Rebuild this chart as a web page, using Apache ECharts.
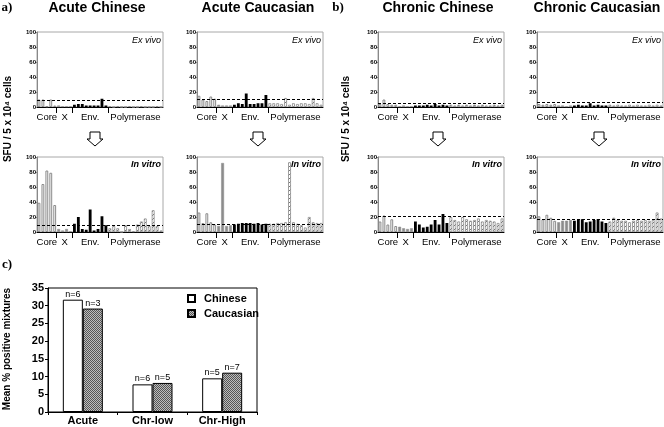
<!DOCTYPE html>
<html><head><meta charset="utf-8">
<script src="https://cdn.jsdelivr.net/npm/echarts@6/dist/echarts.min.js"></script>
<style>html,body{margin:0;padding:0;background:#fff}#c{width:664px;height:427px}</style>
</head><body><div id="c"></div>
<script>
// ---------- DATA ----------
const pools = ['1','2','3','4','5','6','7','8','9','10','11','12','13','14','15','16',
               '17','18','19','20','21','22','23','24','25','26','27','28','29','30','31','32'];
const groupNames = ['Core','X','Env.','Polymerase'];
const groupSizes = [5, 4, 9, 14];

const acuteChineseExVivo    = [10,10,1,10,2, 2,1,1,1, 3,4,4,2,2,2,2,11,2, 1,0,1,0,0,1,0,0,1,0,0,0,1,0];
const acuteCaucasianExVivo  = [15,10,8,14,11, 3,2,2,2, 3,5,4,18,4,4,5,5,16, 5,5,5,4,12,3,5,4,5,5,4,12,5,3];
const chronicChineseExVivo  = [4,10,4,3,3, 1,2,1,1, 2,2,2,3,2,4,2,3,2, 3,2,3,2,3,2,3,2,3,2,2,3,2,3];
const chronicCaucasianExVivo= [4,3,4,3,4, 2,2,1,2, 2,3,2,2,5,2,3,2,2, 3,2,3,2,2,3,2,3,2,2,3,2,3,2];

const acuteChineseInVitro    = [39,64,82,79,36, 4,2,4,1, 11,20,4,3,30,2,4,21,9, 5,8,5,0,9,4,1,10,14,18,8,29,8,2];
const acuteCaucasianInVitro  = [26,12,25,13,10, 8,92,8,9, 10,11,12,12,12,11,12,10,11, 11,11,12,12,13,93,13,11,9,6,20,13,12,12];
const chronicChineseInVitro  = [14,22,10,17,8, 7,5,4,5, 14,10,6,7,10,16,10,24,12, 20,16,14,20,17,15,16,18,14,16,15,14,12,18];
const chronicCaucasianInVitro= [21,17,23,19,15, 13,15,15,16, 15,16,17,13,14,16,17,14,12, 14,19,16,15,15,13,15,16,15,16,15,16,26,18];

const thresholds = { acuteChineseExVivo: 9, acuteCaucasianExVivo: 11, chronicChineseExVivo: 5, chronicCaucasianExVivo: 6,
                     acuteChineseInVitro: 9, acuteCaucasianInVitro: 11, chronicChineseInVitro: 21, chronicCaucasianInVitro: 17 };

const groupCats = ['Acute','Chr-low','Chr-High'];
const chineseMean   = [31.7, 7.8, 9.5];
const caucasianMean = [29.2, 8.2, 11.1];
const chineseN   = [6, 6, 5];
const caucasianN = [3, 5, 7];

// ---------- HELPERS ----------
function pattern(size, draw) {
  const c = document.createElement('canvas'); c.width = c.height = size;
  const g = c.getContext('2d'); draw(g, size);
  return { image: c, repeat: 'repeat' };
}
const hatch = pattern(4, (g, s) => {
  g.fillStyle = '#fff'; g.fillRect(0, 0, s, s);
  g.strokeStyle = '#777'; g.lineWidth = 1;
  g.beginPath(); g.moveTo(-1, s + 1); g.lineTo(s + 1, -1); g.stroke();
});
const checker = pattern(2, (g) => {
  g.fillStyle = '#bdbdbd'; g.fillRect(0, 0, 2, 2);
  g.fillStyle = '#555'; g.fillRect(0, 0, 1, 1); g.fillRect(1, 1, 1, 1);
});

const bounds = [0]; groupSizes.forEach(s => bounds.push(bounds[bounds.length - 1] + s));
const groupCenters = groupSizes.map((s, i) => (bounds[i] + bounds[i + 1]) / 2);
const separators = bounds.slice(1, -1);

function groupOf(i) { let g = 0; while (i >= bounds[g + 1]) g++; return g; }
const groupStyles = [
  { color: '#fff', borderColor: '#8a8a8a', borderWidth: 1 },
  { color: '#8c8c8c', borderColor: '#8c8c8c', borderWidth: 0.5 },
  { color: '#000', borderColor: '#000', borderWidth: 0 },
  { color: hatch, borderColor: '#8a8a8a', borderWidth: 0.8 }
];

const panels = [
  { key: 'acuteChineseExVivo',    data: acuteChineseExVivo,    left: 37,  top: 32,  tag: 'Ex vivo',  tagBold: false },
  { key: 'acuteCaucasianExVivo',  data: acuteCaucasianExVivo,  left: 197, top: 32,  tag: 'Ex vivo',  tagBold: false },
  { key: 'chronicChineseExVivo',  data: chronicChineseExVivo,  left: 378, top: 32,  tag: 'Ex vivo',  tagBold: false },
  { key: 'chronicCaucasianExVivo',data: chronicCaucasianExVivo,left: 537, top: 32,  tag: 'Ex vivo',  tagBold: false },
  { key: 'acuteChineseInVitro',   data: acuteChineseInVitro,   left: 37,  top: 157, tag: 'In vitro', tagBold: true },
  { key: 'acuteCaucasianInVitro', data: acuteCaucasianInVitro, left: 197, top: 157, tag: 'In vitro', tagBold: true },
  { key: 'chronicChineseInVitro', data: chronicChineseInVitro, left: 378, top: 157, tag: 'In vitro', tagBold: true },
  { key: 'chronicCaucasianInVitro',data: chronicCaucasianInVitro,left: 537, top: 157, tag: 'In vitro', tagBold: true }
];
const PW = 126, PH = 75;
const FONT = '"Liberation Sans", Arial, sans-serif';

const grid = [], xAxis = [], yAxis = [], series = [], graphic = [];
panels.forEach((p, k) => {
  grid.push({ left: p.left, top: p.top, width: PW, height: PH, show: true, borderColor: '#a8a8a8', borderWidth: 1, outerBoundsMode: 'none' });
  xAxis.push({ gridIndex: k, type: 'category', data: pools, show: false });
  xAxis.push({
    gridIndex: k, type: 'value', min: 0, max: pools.length, position: 'bottom',
    axisLine: { show: true, onZero: false, lineStyle: { color: '#000', width: 1 } },
    axisTick: { show: true, customValues: separators, length: 6, lineStyle: { color: '#000', width: 1 } },
    axisLabel: { customValues: groupCenters, margin: 5, fontSize: 9.5, fontFamily: FONT, color: '#000',
      formatter: v => { const i = groupCenters.indexOf(v); return i >= 0 ? groupNames[i] : ''; } },
    splitLine: { show: false }
  });
  yAxis.push({
    gridIndex: k, type: 'value', min: 0, max: 100, interval: 20,
    axisLine: { show: true, lineStyle: { color: '#888', width: 1 } },
    axisTick: { show: true, length: 2, lineStyle: { color: '#888' } },
    axisLabel: { fontSize: 6, fontWeight: 'bold', fontFamily: FONT, margin: 1, color: '#000' },
    splitLine: { show: false }
  });
  series.push({
    type: 'bar', xAxisIndex: k * 2, yAxisIndex: k, barCategoryGap: '28%', animation: false, silent: true,
    data: p.data.map((v, i) => ({ value: v, itemStyle: groupStyles[groupOf(i)] })),
    markLine: { silent: true, symbol: 'none', animation: false, label: { show: false },
      lineStyle: { type: [3, 2], color: '#000', width: 1 }, data: [{ yAxis: thresholds[p.key] }] }
  });
  graphic.push({ type: 'text', x: p.left + PW - 2, y: p.top + 8, style: { text: p.tag, align: 'right', verticalAlign: 'middle',
    font: (p.tagBold ? 'italic bold ' : 'italic ') + '9px ' + FONT, fill: '#000' } });
});

// panel c
const ci = panels.length;
grid.push({ left: 48, top: 288, width: 209, height: 124, show: true, borderColor: '#000', borderWidth: 1, outerBoundsMode: 'none' });
xAxis.push({ gridIndex: ci, type: 'category', data: groupCats,
  axisLine: { lineStyle: { color: '#000', width: 1 } },
  axisTick: { show: true, length: 3, lineStyle: { color: '#000' } },
  axisLabel: { fontSize: 11, fontWeight: 'bold', fontFamily: FONT, color: '#000', margin: 3 } });
yAxis.push({ gridIndex: ci, type: 'value', min: 0, max: 35, interval: 5,
  axisLine: { show: true, lineStyle: { color: '#000', width: 1 } },
  axisTick: { show: true, length: 3, lineStyle: { color: '#000' } },
  axisLabel: { fontSize: 11, fontWeight: 'bold', fontFamily: FONT, color: '#000', margin: 4 },
  splitLine: { show: false } });
series.push({ name: 'Chinese', type: 'bar', xAxisIndex: panels.length * 2, yAxisIndex: ci, data: chineseMean,
  barWidth: 20, barGap: '0%', animation: false,
  itemStyle: { color: '#fff', borderColor: '#000', borderWidth: 1 },
  label: { show: true, position: 'top', distance: 1, fontSize: 9, fontFamily: FONT, color: '#000',
    formatter: p => 'n=' + chineseN[p.dataIndex] } });
series.push({ name: 'Caucasian', type: 'bar', xAxisIndex: panels.length * 2, yAxisIndex: ci, data: caucasianMean,
  barWidth: 20, barGap: '0%', animation: false,
  itemStyle: { color: checker, borderColor: '#000', borderWidth: 1 },
  label: { show: true, position: 'top', distance: 1, fontSize: 9, fontFamily: FONT, color: '#000',
    formatter: p => 'n=' + caucasianN[p.dataIndex] } });

// static texts
const txt = (x, y, text, font, extra) => Object.assign({ type: 'text', x, y,
  style: { text, font, fill: '#000', align: 'center', verticalAlign: 'middle' } }, extra || {});
graphic.push(txt(97, 8, 'Acute Chinese', 'bold 14px ' + FONT));
graphic.push(txt(258, 8, 'Acute Caucasian', 'bold 14px ' + FONT));
graphic.push(txt(438, 8, 'Chronic Chinese', 'bold 14px ' + FONT));
graphic.push(txt(597, 8, 'Chronic Caucasian', 'bold 14px ' + FONT));
graphic.push(txt(7, 8, 'a)', 'bold 13px "Liberation Serif", "Times New Roman", serif'));
graphic.push(txt(338, 8, 'b)', 'bold 13px "Liberation Serif", "Times New Roman", serif'));
graphic.push(txt(7, 265, 'c)', 'bold 13px "Liberation Serif", "Times New Roman", serif'));
graphic.push(txt(8, 119, 'SFU / 5 x 10\u2074 cells', 'bold 10px ' + FONT, { rotation: Math.PI / 2 }));
graphic.push(txt(346, 119, 'SFU / 5 x 10\u2074 cells', 'bold 10px ' + FONT, { rotation: Math.PI / 2 }));
graphic.push(txt(7, 349, 'Mean % positive mixtures', 'bold 10px ' + FONT, { rotation: Math.PI / 2 }));
// down arrows
[95, 258, 438, 599].forEach(cx => {
  const ty = 132;
  graphic.push({ type: 'polygon', shape: { points: [[cx - 5, ty], [cx + 5, ty], [cx + 5, ty + 7], [cx + 8, ty + 7], [cx, ty + 14], [cx - 8, ty + 7], [cx - 5, ty + 7]] },
    style: { fill: '#fff', stroke: '#000', lineWidth: 1 } });
});

const chart = echarts.init(document.getElementById('c'), null, { renderer: 'canvas' });
chart.setOption({
  animation: false,
  backgroundColor: '#fff',
  grid, xAxis, yAxis, series, graphic,
  legend: { data: ['Chinese', 'Caucasian'], left: 182, top: 288, orient: 'vertical', itemWidth: 7, itemHeight: 7, itemGap: 4,
    selectedMode: false, icon: 'rect',
    textStyle: { fontSize: 11, fontWeight: 'bold', fontFamily: FONT, color: '#000', padding: [0, 0, 0, 4] } }
});
</script></body></html>
